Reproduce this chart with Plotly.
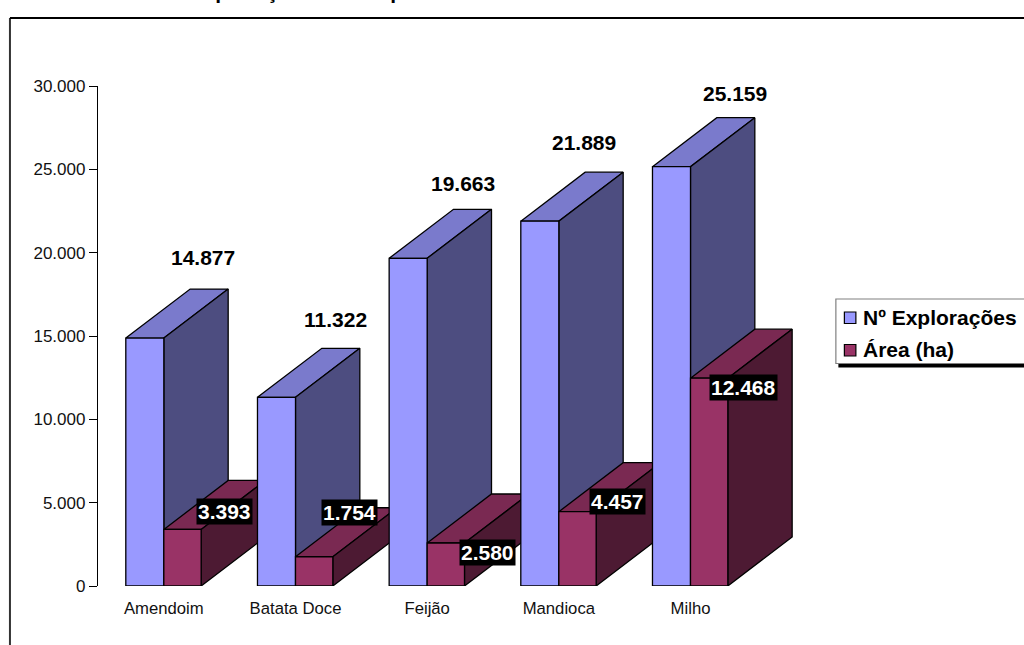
import plotly.graph_objects as go

categories = ["Amendoim", "Batata Doce", "Feijão", "Mandioca", "Milho"]
exploracoes = [14877, 11322, 19663, 21889, 25159]
area = [3393, 1754, 2580, 4457, 12468]
y_ticks = [0, 5000, 10000, 15000, 20000, 25000, 30000]
title_text = "Número de Explorações e Área por Cultura"

# layout constants (pixels on the 1024x645 page)
L, R, T, B = 98, 136.4, 86, 59
W, H = 1024, 645
GROUP_PX = 131.6
PX_Y = 30000 / 500.0
BLUE_W = 38 / GROUP_PX
RED_W = 37.3 / GROUP_PX
DX = 64.3 / GROUP_PX
DY = 49 * PX_Y
LABEL_SIZE = 21

BLUE = ("#9999FF", "#7A7ACC", "#4D4D80")
RED = ("#993366", "#7A2952", "#4D1A33")

blue_shift = [(39, 81), (40, 78), (36, 75), (25, 79), (44, 73)]
red_shift = [(61, 18), (54, 44), (60, -9), (59, 10), (53, -9)]

fig = go.Figure()
xs = list(range(len(categories)))

fig.add_bar(x=xs, y=exploracoes, width=BLUE_W, offset=-BLUE_W, marker_color=BLUE[0],
            name="Nº Explorações", showlegend=False, hoverinfo="skip")
fig.add_bar(x=xs, y=area, width=RED_W, offset=0, marker_color=RED[0],
            name="Área (ha)", showlegend=False, hoverinfo="skip")


def poly(px, py, color):
    fig.add_trace(go.Scatter(
        x=px + px[:1], y=py + py[:1], mode="lines", fill="toself", fillcolor=color,
        line=dict(color="#000000", width=1.3), showlegend=False, hoverinfo="skip"))


def box3d(x0, x1, v, cols):
    poly([x0, x1, x1 + DX, x0 + DX], [v, v, v + DY, v + DY], cols[1])
    poly([x1, x1 + DX, x1 + DX, x1], [0, DY, v + DY, v], cols[2])


for i in xs:
    box3d(i - BLUE_W, i, exploracoes[i], BLUE)
    box3d(i, i + RED_W, area[i], RED)
    poly([i - BLUE_W, i, i, i - BLUE_W], [0, 0, exploracoes[i], exploracoes[i]], BLUE[0])
    poly([i, i + RED_W, i + RED_W, i], [0, 0, area[i], area[i]], RED[0])


def fmt(v):
    return f"{v:,}".replace(",", ".")


annotations = []
for i in xs:
    annotations.append(dict(x=i, y=exploracoes[i], xref="x", yref="y", text="<b>" + fmt(exploracoes[i]) + "</b>",
                            showarrow=False, xshift=blue_shift[i][0], yshift=blue_shift[i][1],
                            font=dict(family="Liberation Sans", size=LABEL_SIZE, color="#000000")))
    annotations.append(dict(x=i, y=area[i], xref="x", yref="y", text="<b>" + fmt(area[i]) + "</b>",
                            showarrow=False, xshift=red_shift[i][0], yshift=red_shift[i][1],
                            bgcolor="#000000", borderpad=1,
                            font=dict(family="Liberation Sans", size=LABEL_SIZE, color="#FFFFFF")))


def px_x(p):
    return (p - L) / (W - L - R)


def px_y(p):
    return (H - B - p) / (H - T - B)


annotations.append(dict(xref="paper", yref="paper", x=px_x(73), y=px_y(4), xanchor="left", yanchor="bottom",
                        text="<b>" + title_text + "</b>", showarrow=False, borderpad=0,
                        font=dict(family="Liberation Sans", size=LABEL_SIZE, color="#000000")))
annotations.append(dict(xref="paper", yref="paper", x=px_x(862), y=px_y(317.5), xanchor="left", yanchor="middle",
                        text="<b>Nº Explorações</b>", showarrow=False, borderpad=0,
                        font=dict(family="Liberation Sans", size=LABEL_SIZE, color="#000000")))
annotations.append(dict(xref="paper", yref="paper", x=px_x(862), y=px_y(349), xanchor="left", yanchor="middle",
                        text="<b>Área (ha)</b>", showarrow=False, borderpad=0,
                        font=dict(family="Liberation Sans", size=LABEL_SIZE, color="#000000")))


def rect(x0, y0, x1, y1, fill, line=None, lw=1):
    return dict(type="rect", xref="paper", yref="paper", x0=px_x(x0), x1=px_x(x1), y0=px_y(y0), y1=px_y(y1),
                fillcolor=fill, line=dict(color=line or fill, width=lw if line else 0), layer="above")


shapes = [
    dict(type="line", xref="paper", yref="paper", x0=px_x(10), x1=px_x(10), y0=px_y(18), y1=px_y(650),
         line=dict(color="#333333", width=2), layer="below"),
    dict(type="line", xref="paper", yref="paper", x0=px_x(10), x1=px_x(1030), y0=px_y(18), y1=px_y(18),
         line=dict(color="#000000", width=2), layer="below"),
    rect(838, 304, 1030, 367.5, "#000000"),
    rect(835.5, 299, 1030, 363.5, "#FFFFFF", "#808080", 1.2),
    rect(844, 312, 855.5, 323.5, BLUE[0], "#000000", 1.2),
    rect(844, 344.5, 855.5, 356, RED[0], "#000000", 1.2),
]

fig.update_layout(
    width=W, height=H, margin=dict(l=L, r=R, t=T, b=B, pad=0, autoexpand=False),
    paper_bgcolor="#FFFFFF", plot_bgcolor="#FFFFFF", barmode="overlay", showlegend=False,
    separators=",.", font=dict(family="Liberation Sans", size=16.7, color="#111111"),
    annotations=annotations, shapes=shapes,
    xaxis=dict(range=[-0.5, 5.5], tickmode="array", tickvals=xs, ticktext=categories, ticks="",
               showline=False, showgrid=False, zeroline=False, ticklen=0, fixedrange=True,
               ticklabelstandoff=10, tickfont=dict(size=16.7)),
    yaxis=dict(range=[0, 30000], tickmode="array", tickvals=y_ticks, tickformat=",d",
               ticks="outside", ticklen=8, tickwidth=1.2, tickcolor="#000000",
               showline=True, linecolor="#000000", linewidth=1.3, showgrid=False, zeroline=False,
               fixedrange=True, tickfont=dict(size=17)),
)

fig.write_html("out.html", config=dict(displayModeBar=False),
               post_script="document.body.style.margin='0';document.body.style.overflow='hidden';")
